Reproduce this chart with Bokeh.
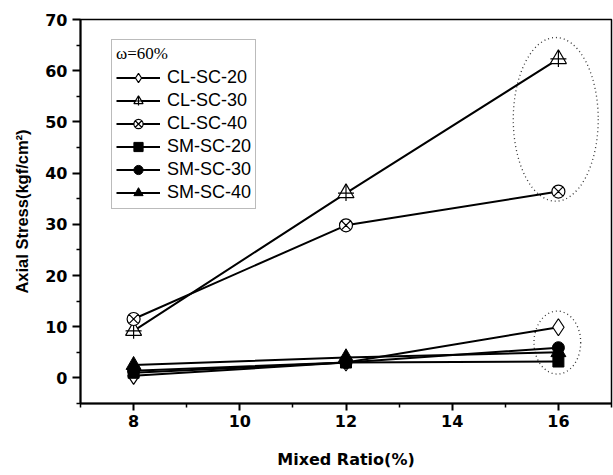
from math import pi
from bokeh.plotting import figure
from bokeh.models import Range1d, FixedTicker, Legend, LegendItem
from bokeh.embed import file_html
from bokeh.resources import INLINE

# ---------------- data ----------------
mixed_ratio = [8, 12, 16]
cl_sc_20 = [0.4, 3.0, 9.9]
cl_sc_30 = [9.2, 36.1, 62.3]
cl_sc_40 = [11.5, 29.8, 36.4]
sm_sc_20 = [1.0, 3.0, 3.2]
sm_sc_30 = [1.4, 3.0, 5.9]
sm_sc_40 = [2.5, 4.0, 5.0]
series_names = ["CL-SC-20", "CL-SC-30", "CL-SC-40", "SM-SC-20", "SM-SC-30", "SM-SC-40"]
legend_title = "ω=60%"
x_label = "Mixed Ratio(%)"
y_label = "Axial Stress(kgf/cm²)"
x_ticks = [8, 10, 12, 14, 16]
x_minor = [7, 9, 11, 13, 15, 17]
y_ticks = [0, 10, 20, 30, 40, 50, 60, 70]
y_minor = [-5, 5, 15, 25, 35, 45, 55, 65]
# dotted ellipses (center x, center y, width, height) in data units
ell_x = [15.95, 15.98]
ell_y = [50.5, 6.9]
ell_w = [1.6, 0.88]
ell_h = [32.0, 12.3]

# ---------------- figure ----------------
p = figure(width=613, height=475, x_range=Range1d(7, 17), y_range=Range1d(-5, 70),
           output_backend="svg", toolbar_location=None,
           min_border_left=80, min_border_right=2, min_border_top=19, min_border_bottom=72)
p.xgrid.visible = False
p.ygrid.visible = False
p.outline_line_color = "black"
p.outline_line_width = 1.5
p.outline_line_alpha = 1.0
p.background_fill_color = "white"
p.border_fill_color = "white"

p.xaxis.ticker = FixedTicker(ticks=x_ticks, minor_ticks=x_minor)
p.yaxis.ticker = FixedTicker(ticks=y_ticks, minor_ticks=y_minor)

for ax in (p.xaxis[0], p.yaxis[0]):
    ax.axis_line_width = 2
    ax.axis_line_color = "black"
    ax.major_tick_line_width = 2
    ax.minor_tick_line_width = 1.5
    ax.major_tick_line_color = "black"
    ax.minor_tick_line_color = "black"
    ax.major_tick_in = 0
    ax.minor_tick_in = 0
    ax.minor_tick_out = 4
    ax.major_label_text_font = "DejaVu Sans"
    ax.major_label_text_font_style = "bold"
    ax.major_label_text_font_size = "16px"
    ax.major_label_text_color = "black"
    ax.axis_label_text_color = "black"
    ax.axis_label_text_font_style = "bold"

p.xaxis.major_tick_out = 7
p.xaxis.major_label_standoff = 4
p.yaxis.major_tick_out = 8
p.yaxis.major_label_standoff = 5

p.xaxis.axis_label = x_label
p.xaxis.axis_label_text_font = "DejaVu Sans"
p.xaxis.axis_label_text_font_size = "16px"
p.xaxis.axis_label_standoff = 20

p.yaxis.axis_label = y_label
p.yaxis.axis_label_text_font = "Liberation Sans"
p.yaxis.axis_label_text_font_size = "16.5px"
p.yaxis.axis_label_standoff = 11

# dotted ellipses
p.ellipse(x=ell_x, y=ell_y, width=ell_w, height=ell_h, fill_color=None,
          line_color="#333333", line_dash="1 3", line_width=1.3)

series = [cl_sc_20, cl_sc_30, cl_sc_40, sm_sc_20, sm_sc_30, sm_sc_40]
lines = [p.line(mixed_ratio, s, line_width=2, line_color="black") for s in series]

items = []
# CL-SC-20: open diamond
m0 = p.scatter(mixed_ratio, cl_sc_20, marker="diamond", size=17,
               fill_color="white", line_color="black", line_width=1.2)
items.append(LegendItem(label=series_names[0], renderers=[lines[0], m0]))
# CL-SC-30: open triangle with cross
m1a = p.scatter(mixed_ratio, cl_sc_30, marker="triangle", size=16,
                fill_color="white", line_color="black", line_width=1.2)
m1b = p.scatter(mixed_ratio, cl_sc_30, marker="cross", size=16,
                line_color="black", line_width=1.2)
items.append(LegendItem(label=series_names[1], renderers=[lines[1], m1a, m1b]))
# CL-SC-40: circle x
m2 = p.scatter(mixed_ratio, cl_sc_40, marker="circle_x", size=13,
               fill_color="white", line_color="black", line_width=1.2)
items.append(LegendItem(label=series_names[2], renderers=[lines[2], m2]))
# SM-SC-20: filled square
m3 = p.scatter(mixed_ratio, sm_sc_20, marker="square", size=11,
               fill_color="black", line_color="black")
items.append(LegendItem(label=series_names[3], renderers=[lines[3], m3]))
# SM-SC-30: filled circle
m4 = p.scatter(mixed_ratio, sm_sc_30, marker="circle", size=12,
               fill_color="black", line_color="black")
items.append(LegendItem(label=series_names[4], renderers=[lines[4], m4]))
# SM-SC-40: filled triangle
m5 = p.scatter(mixed_ratio, sm_sc_40, marker="triangle", size=15,
               fill_color="black", line_color="black")
items.append(LegendItem(label=series_names[5], renderers=[lines[5], m5]))

legend = Legend(items=items, location=(31, 194), title=legend_title,
                title_text_font="Liberation Serif", title_text_font_size="17px",
                title_text_font_style="normal", title_text_color="black",
                label_text_font="Liberation Sans", label_text_font_size="18px",
                label_text_color="black",
                glyph_width=44, glyph_height=23, label_height=23, spacing=0,
                padding=4, margin=0, label_standoff=7, title_standoff=2,
                border_line_color="#777777", border_line_width=1,
                background_fill_color="white", background_fill_alpha=1.0)
p.add_layout(legend)

open("out.html", "w").write(file_html(p, INLINE))
